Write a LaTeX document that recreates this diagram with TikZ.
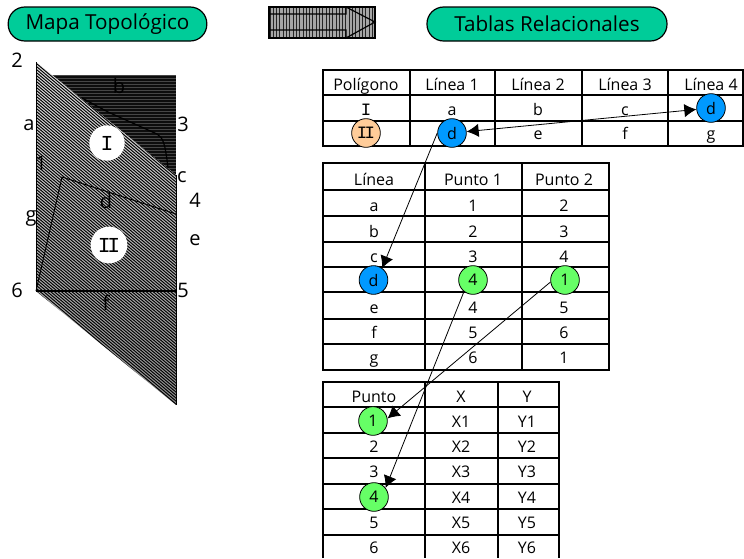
\documentclass[tikz,border=0pt]{standalone}
\usepackage{fontspec}
\setmainfont{Open Sans}
\newfontfamily\slabfont{Liberation Mono}
\usetikzlibrary{arrows.meta}
\definecolor{pillcol}{HTML}{00CC99}
\definecolor{bluecol}{HTML}{0099FF}
\definecolor{greencol}{HTML}{66FF66}
\definecolor{orangecol}{HTML}{FFCC99}
\tikzset{
  x=0.75pt,y=-0.75pt,
  pill/.style={draw=black,line width=0.9pt,fill=pillcol,rounded corners=12.5pt,minimum height=25.5pt,inner sep=0pt,font=\fontsize{15.5}{17}\selectfont},
  grid/.style={draw=black,line width=1.4pt},
  cell/.style={inner sep=0pt,anchor=base,font=\fontsize{12}{14}\selectfont},
  dot/.style={circle,draw=black,line width=0.6pt,minimum size=21.5pt,inner sep=0pt,font=\fontsize{12}{14}\selectfont},
  bigdot/.style={circle,fill=white,minimum size=26.5pt,inner sep=0pt,font=\fontsize{15}{17}\selectfont},
  maplabel/.style={inner sep=0pt,font=\fontsize{15}{17}\selectfont},
  link/.style={draw=black,line width=0.6pt,-{Latex[length=9pt,width=10pt]}},
  edge/.style={draw=black,line width=0.7pt}
}
\begin{document}
\begin{tikzpicture}
\useasboundingbox (0,0) rectangle (744,558);
% headers
\node[pill,minimum width=149pt] (mapa) at (107.5,24) {Mapa Topológico};
\node[pill,minimum width=180pt] (tablas) at (547,24) {Tablas Relacionales};
% block arrow
\begin{scope}
\fill[gray!70] (269,7) rectangle (375,38);
\clip (269,7) rectangle (375,38);
\foreach \i in {0,...,32} \draw[black!85,line width=0.7pt] ({270+\i*3.3},7) -- ({270+\i*3.3},38);
\end{scope}
\draw[black,line width=0.8pt] (269,7) rectangle (375,38);
\draw[black,line width=0.9pt] (269,14) -- (346,14) -- (346,7) -- (375,22) -- (346,38) -- (346,30) -- (269,30);
% dark polygon
\begin{scope}
\clip (52,75) -- (176,75) -- (176,175) -- cycle;
\fill[black!95] (52,75) rectangle (176,175);
\foreach \i in {0,...,33} \draw[gray!55!black,line width=0.3pt] (52,{75+\i*3}) -- (176,{75+\i*3});
\end{scope}
\draw[black,line width=0.9pt] (82,98) -- (108,112) -- (157,134) .. controls (163,138) and (165,142) .. (168,168);
% hatched polygon
\begin{scope}
\clip (36,62) -- (176,175) -- (176,405) -- (36,291) -- cycle;
\shade[top color=gray!25,middle color=gray!50,bottom color=gray!90] (36,62) rectangle (176,405);
\foreach \i in {0,...,170} \draw[black,line width=0.72pt] (-10,{-120+\i*3}) -- (190,{-120+\i*3+170});
\end{scope}
\draw[edge] (36,62) -- (36,291);
\draw[edge] (176,175) -- (176,405);
\draw[edge,line width=1pt] (36,291) -- (176,291);
\draw[edge] (36,291) -- (62,177) -- (176,214);
% map labels
\node[bigdot,font=\fontsize{16}{18}\slabfont] (poly1) at (107,143) {I};
\node[bigdot,minimum size=27.5pt,font=\fontsize{16}{18}\slabfont] (poly2) at (109,245) {I\kern-2.5pt I};
\node[maplabel] (l2) at (17,60) {2};
\node[maplabel] (la) at (29,125) {a};
\node[maplabel] (l1) at (41,163) {1};
\node[maplabel] (lg) at (31,218) {g};
\node[maplabel] (l6) at (17,290) {6};
\node[maplabel] (l3) at (183,124) {3};
\node[maplabel] (lc) at (182,177) {c};
\node[maplabel] (l4) at (195,200) {4};
\node[maplabel] (ld) at (106,201) {d};
\node[maplabel] (le) at (195,240) {e};
\node[maplabel] (l5) at (183,290) {5};
\node[maplabel] (lf) at (106,303) {f};
\node[maplabel] (lb) at (119,86) {b};
% table 1 grid
\draw[grid] (323,70) rectangle (743,146);
\foreach \y in {95,121} \draw[grid] (323,\y) -- (743,\y);
\foreach \x in {410,495,582,668} \draw[grid] (\x,70) -- (\x,146);
% table 2 grid
\draw[grid] (323,163) rectangle (609,370);
\foreach \y in {190,216,242,267,292,319,344} \draw[grid] (323,\y) -- (609,\y);
\foreach \x in {425,522} \draw[grid] (\x,163) -- (\x,370);
% table 3 grid
\draw[grid] (323,558) -- (323,382) -- (559,382) -- (559,558);
\foreach \y in {407,433,458,484,509,535} \draw[grid] (323,\y) -- (559,\y);
\foreach \x in {425,498} \draw[grid] (\x,382) -- (\x,558);
% table 1 text
\foreach \n/\x/\t in {a/366/Polígono,b/452/Línea 1,c/538/Línea 2,d/625/Línea 3,e/711/Línea 4}
  \node[cell] (h1\n) at (\x,90) {\t};
\node[cell,font=\fontsize{13}{15}\slabfont] (r1a) at (366,115) {I};
\foreach \n/\x/\t in {b/452/a,c/538/b,d/625/c}
  \node[cell] (r1\n) at (\x,115) {\t};
\foreach \n/\x/\t in {c/538/e,d/625/f,e/711/g}
  \node[cell] (s1\n) at (\x,139) {\t};
% table 2 text
\foreach \n/\y/\a/\b/\c in {a/185/Línea/Punto 1/Punto 2,b/211/a/1/2,c/237/b/2/3,d/262/c/3/4,e/313/e/4/5,f/338/f/5/6,g/363/g/6/1}{
  \node[cell] (p\n a) at (374,\y) {\a};
  \node[cell] (p\n b) at (473,\y) {\b};
  \node[cell] (p\n c) at (564,\y) {\c};
}
% table 3 text
\foreach \n/\y/\a/\b/\c in {a/402/Punto/X/Y,b/427/{}/X1/Y1,c/452/2/X2/Y2,d/477/3/X3/Y3,e/503/{}/X4/Y4,f/528/5/X5/Y5,g/553/6/X6/Y6}{
  \node[cell] (q\n a) at (374,\y) {\a};
  \node[cell] (q\n b) at (461,\y) {\b};
  \node[cell] (q\n c) at (527,\y) {\c};
}
% highlighted cells
\node[dot,fill=orangecol,font=\fontsize{13}{15}\slabfont] (c2) at (366,133) {I\kern-2pt I};
\node[dot,fill=bluecol] (d12) at (452,133) {d};
\node[dot,fill=bluecol] (d14) at (711,108) {d};
\node[dot,fill=bluecol] (d2) at (373.5,280) {d};
\node[dot,fill=greencol] (p4) at (473,280) {4};
\node[dot,fill=greencol] (p1) at (565,280) {1};
\node[dot,fill=greencol] (x1) at (373,421) {1};
\node[dot,fill=greencol] (x4) at (374,497) {4};
% connectors
\draw[link,{Latex[length=9pt,width=10pt]}-{Latex[length=9pt,width=10pt]}] (d14) -- (d12);
\draw[link] (d12.west) -- (d2.54);
\draw[link] (p4.232) -- (x4.38);
\draw[link] (p1.188) -- (x1.10);
\end{tikzpicture}
\end{document}
